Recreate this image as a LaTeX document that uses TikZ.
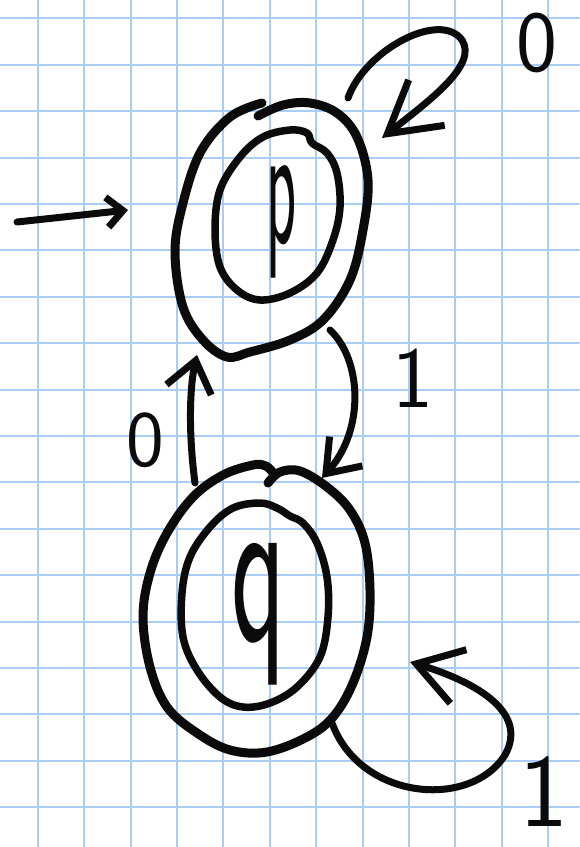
\documentclass[tikz,border=0pt]{standalone}
\usepackage{fontspec}
\usepackage{graphicx}
\usetikzlibrary{arrows.meta}
\definecolor{ink}{HTML}{0B0B0B}
\definecolor{gridblue}{HTML}{A9CDF4}

\begin{document}
\begin{tikzpicture}[x=1pt,y=-1pt,font=\sffamily,text=ink,line cap=round,line join=round,
    gridline/.style={gridblue,line width=2pt},
    ring/.style={ink,line width=9pt},
    innerring/.style={ink,line width=7.5pt},
    edge/.style={ink,line width=7pt},
    glyph/.style={inner sep=0pt,font=\sffamily\fontsize{#1}{#1}\selectfont}]
  \pgfmathsetmacro{\gap}{46.4}
  \useasboundingbox (0,0) rectangle (579,847);
  \fill[white] (0,0) rectangle (579,847);

  % squared paper
  \foreach \i in {0,...,11}
    \draw[gridline] ({37.7+\gap*\i},0) -- ++(0,847);
  \foreach \j in {0,...,17}
    \draw[gridline] (0,{18.3+\gap*\j}) -- ++(579,0);

  % state p, double ring
  \draw[ring] plot[smooth,tension=0.6] coordinates {(262,103) (230,117) (200,153)
    (182,207) (175,253) (183,307) (203,340) (227,357) (250,352) (290,340)
    (323,320) (350,280) (363,230) (368,180) (357,137) (337,113) (310,103)
    (283,105) (258,116)};
  \draw[innerring] plot[smooth cycle,tension=0.6] coordinates {(307,133) (290,130)
    (263,137) (240,157) (220,190) (215,230) (220,267) (237,290) (260,300)
    (290,293) (317,273) (333,240) (340,207) (337,173) (327,153) (312,143)};
  \node[glyph=178] (p) at (282,222) {\scalebox{0.35}[1]{p}};

  % state q, double ring
  \draw[ring] plot[smooth,tension=0.6] coordinates {(268,483) (280,472) (300,471)
    (327,487) (350,510) (365,543) (370,590) (367,637) (353,683) (333,717)
    (307,737) (267,752) (230,750) (197,733) (167,707) (150,667) (143,617)
    (150,573) (167,533) (193,497) (223,475) (253,465) (266,466) (274,474)};
  \draw[innerring] plot[smooth cycle,tension=0.6] coordinates {(290,516) (277,508)
    (260,503) (233,508) (210,527) (190,557) (182,593) (183,637) (197,670)
    (220,697) (243,707) (270,703) (297,687) (320,657) (328,617) (327,577)
    (317,543) (303,523)};
  \node[glyph=224] (q) at (259,614) {\scalebox{0.5}[1]{q}};

  % connector ends
  \coordinate (init) at (17,222);
  \coordinate (pIn) at (128,210);
  \coordinate (pLoopOut) at (348,98);
  \coordinate (pLoopIn) at (382,138);
  \coordinate (pOut) at (330,330);
  \coordinate (qIn) at (322,478);
  \coordinate (qOut) at (195,483);
  \coordinate (pBack) at (197,355);
  \coordinate (qLoopOut) at (332,723);
  \coordinate (qLoopIn) at (410,662);

  % transitions
  \draw[edge,-{Straight Barb[length=16pt,width=30pt]}] (init) -- (pIn);
  \draw[edge,-{Straight Barb[length=50pt,width=58pt]}] (pLoopOut)
    .. controls (365,50) and (440,10) .. (462,40)
    .. controls (478,65) and (430,100) .. (pLoopIn);
  \draw[edge,-{Straight Barb[length=30pt,width=44pt]}] (pOut)
    .. controls (362,360) and (365,430) .. (qIn);
  \draw[edge,-{Straight Barb[length=30pt,width=46pt]}] (qOut)
    .. controls (188,430) and (190,385) .. (pBack);
  \draw[edge,-{Straight Barb[length=44pt,width=56pt]}] (qLoopOut)
    .. controls (360,800) and (470,810) .. (505,755)
    .. controls (530,710) and (470,680) .. (qLoopIn);

  % input symbols
  \node[glyph=87] (loopP) at (537,43) {0};
  \node[glyph=87] (stepPQ) at (413,378) {1};
  \node[glyph=80] (stepQP) at (145,440) {0};
  \node[glyph=104] (loopQ) at (544,792) {1};
\end{tikzpicture}
\end{document}
